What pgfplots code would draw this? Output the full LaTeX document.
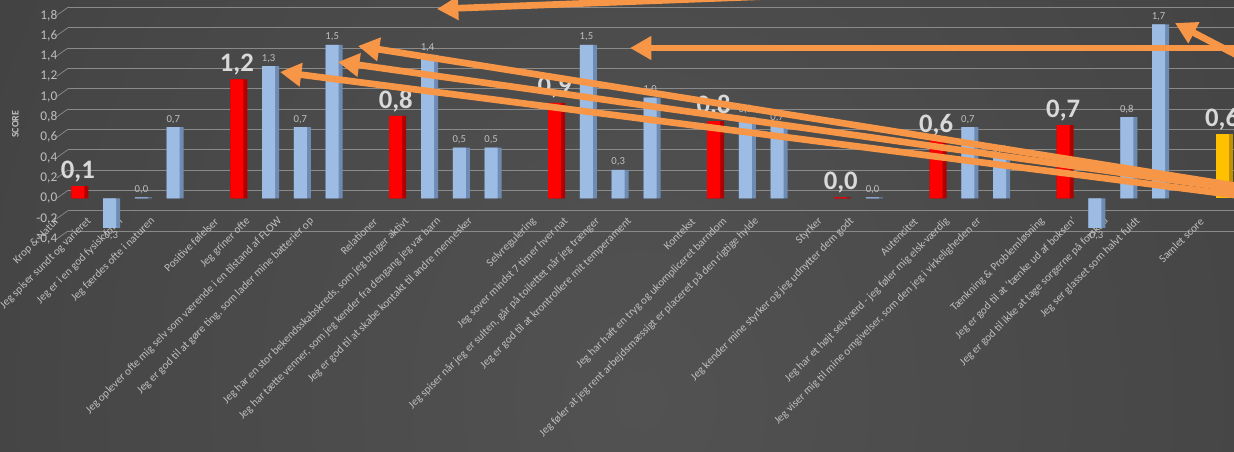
\documentclass[border=0pt]{standalone}
\usepackage{pgfplots}
\usepackage{pgfplotstable}
\pgfplotsset{compat=1.18}
\usepackage{fontspec}
\setmainfont{Carlito}
\usetikzlibrary{arrows.meta}

\definecolor{bg0}{HTML}{525252}
\definecolor{bg1}{HTML}{464646}
\definecolor{bg2}{HTML}{383838}
\definecolor{bg3}{HTML}{292929}
\definecolor{bg4}{HTML}{222222}
\definecolor{gridc}{HTML}{8A8A8A}
\definecolor{labc}{HTML}{BFBFBF}
\definecolor{bigc}{HTML}{D9D9D9}
\definecolor{redc}{HTML}{FF0000}
\definecolor{redside}{HTML}{B00000}
\definecolor{bluec}{HTML}{9DBCE4}
\definecolor{blueside}{HTML}{6D8BB3}
\definecolor{yelc}{HTML}{FFC000}
\definecolor{yelside}{HTML}{C09000}
\definecolor{arrowc}{HTML}{F79646}

\pgfdeclareradialshading{bgshade}{\pgfpointorigin}{color(0bp)=(bg0); color(20bp)=(bg1); color(35bp)=(bg2); color(45bp)=(bg3); color(50bp)=(bg4)}

% categories (red), items (blue), total (yellow); x = slot index
\pgfplotstableread{
x y
0 0.12
5 1.17
10 0.81
15 0.94
20 0.76
24 0.01
27 0.57
31 0.72
}\redtab
\pgfplotstableread{
x y
1 -0.29
2 0.01
3 0.70
6 1.30
7 0.70
8 1.51
11 1.41
12 0.50
13 0.50
16 1.51
17 0.28
18 0.99
21 0.80
22 0.72
25 0.01
28 0.70
29 0.40
32 -0.29
33 0.80
34 1.71
}\bluetab
\pgfplotstableread{
x y
36 0.63
}\yeltab

\begin{document}
\begin{tikzpicture}
\path[use as bounding box] (0pt,0pt) rectangle (925.5pt,338.25pt);
\clip (0pt,0pt) rectangle (925.5pt,338.25pt);
\shade[shading=bgshade] (-90pt,-636.75pt) rectangle (1050pt,713.25pt);
\begin{axis}[
  at={(46.5pt,159pt)}, anchor=south west,
  scale only axis, width=882pt, height=183pt,
  xmin=-0.5, xmax=36.5, ymin=-0.4, ymax=2.0,
  clip=false,
  axis line style={draw=none}, tick style={draw=none},
  ytick={-0.4,-0.2,0,0.2,0.4,0.6,0.8,1.0,1.2,1.4,1.6,1.8},
  ymajorgrids,
  major grid style={draw=gridc, line width=0.55pt, yshift=6pt, xshift=4.5pt},
  y tick label style={font=\fontsize{10}{11}\selectfont, text=labc,
    /pgf/number format/use comma, /pgf/number format/fixed,
    /pgf/number format/fixed zerofill, /pgf/number format/precision=1,
    /pgf/number format/assume math mode=true},
  ylabel={SCORE},
  every axis y label/.style={at={([xshift=-35pt]rel axis cs:0,0.47)}, rotate=90, anchor=center,
    font=\bfseries\fontsize{7.5}{8}\selectfont, text=labc},
  xtick={0,...,36},
  xticklabels={Krop \& Natur, Jeg spiser sundt og varieret, Jeg er i en god fysisk form, Jeg færdes ofte i naturen, ,
    Positive følelser, Jeg griner ofte, Jeg oplever ofte mig selv som værende i en tilstand af FLOW, {Jeg er god til at gøre ting, som lader mine batterier op}, ,
    Relationer, {Jeg har en stor bekendsskabskreds, som jeg bruger aktivt}, {Jeg har tætte venner, som jeg kender fra dengang jeg var barn}, Jeg er god til at skabe kontakt til andre mennesker, ,
    Selvregulering, Jeg sover mindst 7 timer hver nat, {Jeg spiser når jeg er sulten, går på toilettet når jeg trænger}, Jeg er god til at krontrollere mit temperament, ,
    Kontekst, Jeg har haft en tryg og ukompliceret barndom, Jeg føler at jeg rent arbejdsmæssigt er placeret på den rigtige hylde, ,
    Styrker, Jeg kender mine styrker og jeg udnytter dem godt, ,
    Autencitet, Jeg har et højt selvværd - jeg føler mig elsk-værdig, {Jeg viser mig til mine omgivelser, som den jeg i virkeligheden er}, ,
    Tænkning \& Problemløsning, Jeg er god til at 'tænke ud af boksen', Jeg er god til ikke at tage sorgerne på forskud, Jeg ser glasset som halvt fuldt, ,
    Samlet score},
  x tick label style={rotate=45, anchor=east, font=\fontsize{8.4}{10}\selectfont, text=labc, yshift=21pt, xshift=3pt},
]
% side faces
\addplot[ybar, bar width=12.75pt, bar shift=1.5pt, fill=redside, draw=none] table {\redtab};
\addplot[ybar, bar width=12.75pt, bar shift=1.5pt, fill=blueside, draw=none] table {\bluetab};
\addplot[ybar, bar width=12.75pt, bar shift=1.5pt, fill=yelside, draw=none] table {\yeltab};
% front faces
\addplot[ybar, bar width=9.75pt, bar shift=0pt, fill=redc, draw=none,
  nodes near coords={\pgfmathprintnumber[use comma,fixed,fixed zerofill,precision=1,assume math mode=true]{\pgfplotspointmeta}},
  every node near coord/.append style={font=\bfseries\fontsize{20}{20}\selectfont, text=bigc, inner sep=3pt}] table {\redtab};
\addplot[ybar, bar width=9.75pt, bar shift=0pt, fill=bluec, draw=none,
  nodes near coords={\pgfmathprintnumber[use comma,fixed,fixed zerofill,precision=1,assume math mode=true]{\pgfplotspointmeta}},
  every node near coord/.append style={font=\fontsize{8}{9}\selectfont, text=labc, inner sep=2.5pt}] table {\bluetab};
\addplot[ybar, bar width=9.75pt, bar shift=0pt, fill=yelc, draw=none,
  nodes near coords={\pgfmathprintnumber[use comma,fixed,fixed zerofill,precision=1,assume math mode=true]{\pgfplotspointmeta}},
  every node near coord/.append style={font=\bfseries\fontsize{20}{20}\selectfont, text=bigc, inner sep=3pt}] table {\yeltab};
% side wall stubs of the grid
\pgfplotsinvokeforeach{-0.4,-0.2,0,0.2,0.4,0.6,0.8,1.0,1.2,1.4,1.6,1.8}{
  \draw[gridc, line width=0.55pt] ([xshift=-4pt]axis cs:-0.5,#1) -- ++(8.5pt,6pt);
}
\end{axis}
% annotation arrows
\begin{scope}[x=0.75pt,y=-0.75pt,yshift=338.25pt, line width=5pt, arrowc, -{Triangle[length=16pt,width=17pt]}]
\draw (1250,-22) -- (437,9);
\draw (1250,48) -- (630,48);
\draw (1250,62) -- (1175,23);
\draw (1250,188) -- (358,46);
\draw (1250,191) -- (338,62);
\draw (1250,197) -- (280,72);
\end{scope}
\end{tikzpicture}
\end{document}
